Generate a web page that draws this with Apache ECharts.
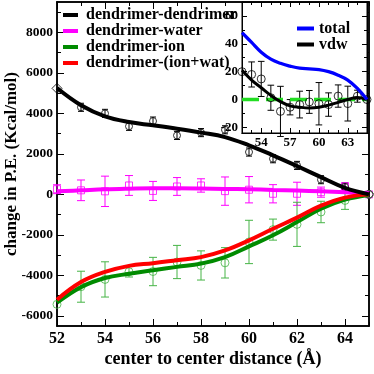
<!DOCTYPE html>
<html>
<head>
<meta charset="utf-8">
<script src="https://cdn.jsdelivr.net/npm/echarts@6/dist/echarts.min.js"></script>
<style>
html,body{margin:0;padding:0;background:#fff}
#chart{width:374px;height:374px}
</style>
</head>
<body>
<div id="chart"></div>
<script>
// center to center distance (A)
const distance = [52,53,54,55,56,57,58,59,60,61,62,63,64,65];

// main plot: fitted curves
const ddFit  = [5250,4400,3850,3570,3410,3240,3050,2830,2420,1930,1400,850,320,0];
const dwFit  = [150,200,250,280,300,300,290,270,250,220,190,150,100,50];
const diFit  = [-5350,-4580,-4130,-3920,-3750,-3580,-3420,-3100,-2570,-2020,-1370,-710,-260,-30];
const diwFit = [-5200,-4330,-3830,-3530,-3400,-3250,-3100,-2770,-2270,-1700,-1150,-560,-160,0];

// main plot: raw points with error bars
const ddPts = [5235,4300,4000,3360,3620,2910,3050,3190,2090,1760,1430,725,360,0];
const ddErr = [0,200,200,200,200,200,200,200,200,200,200,200,200,0];
const dwPts = [255,200,150,440,170,390,440,160,230,30,30,110,400,0];
const dwErr = [220,510,750,490,470,440,330,700,650,450,570,250,160,0];
const diPts = [-5430,-4560,-4200,-3820,-3810,-3340,-3510,-3380,-2350,-1740,-1480,-870,-300,0];
const diErr = [0,765,870,260,700,820,720,750,1070,520,1090,530,440,0];

// inset
const totalFit = [48,41,34,29,26,24,22.5,22,21.5,20,17.5,14,8,0];
const vdwFit   = [21,14,8.5,3,-1.5,-4.5,-5.5,-6,-5.5,-4,-2,0,1.5,0];
const vdwPts   = [20,18,14.8,1.3,-8.5,-5.5,-3.6,-1.7,-3,-3.6,2.5,-2.9,2.4,0];
const vdwErr   = [0,9,12.6,9,18,5.5,9.6,8.2,15.2,8.4,8,12.5,4.3,0];

// tick values
const mainXTicks  = [52,54,56,58,60,62,64];
const mainXMinor  = [53,55,57,59,61,63,65];
const mainYTicks  = [-6000,-4000,-2000,0,2000,4000,6000,8000];
const mainYMinor  = [-5000,-3000,-1000,1000,3000,5000,7000,9000];
const insetXTicks = [54,57,60,63];
const insetXMinor = [53,55,56,58,59,61,62,64];
const insetYTicks = [-20,0,20,40,60];
const insetYMinor = [-10,10,30,50];

const font = 'Liberation Serif';

function pairs(ys){ return distance.map((x,i)=>[x, ys[i]]); }

function axis(pos, grid, min, max, ticks, len, z, label){
    return {
        type:'value', gridIndex:grid, position:pos, min:min, max:max, z:z,
        axisLine:{show:true, onZero:false, lineStyle:{color:'#000', width:grid===0 ? 1.5 : 1}},
        axisTick:{show:true, inside:true, length:len, customValues:ticks, lineStyle:{color:'#000', width:1}},
        axisLabel: label ? Object.assign({
            customValues:ticks, color:'#000', fontFamily:font, fontWeight:'bold',
            formatter:v=>String(v)
        }, label) : {show:false},
        splitLine:{show:false}
    };
}

function errBars(ys, es, color, xi, yi, cap, z){
    return {
        type:'custom', xAxisIndex:xi, yAxisIndex:yi, z:z, silent:true,
        data: distance.map((x,i)=>[x, ys[i], es[i]]),
        renderItem(params, api){
            const x = api.value(0), y = api.value(1), e = api.value(2);
            if(!e) return;
            const t = api.coord([x, y+e]), b = api.coord([x, y-e]);
            const style = {stroke:color, lineWidth:1};
            return {type:'group', children:[
                {type:'line', shape:{x1:t[0],y1:t[1],x2:b[0],y2:b[1]}, style:style},
                {type:'line', shape:{x1:t[0]-cap,y1:t[1],x2:t[0]+cap,y2:t[1]}, style:style},
                {type:'line', shape:{x1:b[0]-cap,y1:b[1],x2:b[0]+cap,y2:b[1]}, style:style}
            ]};
        }
    };
}

function fitLine(name, ys, color, width, xi, yi, z){
    return {
        type:'line', name:name, xAxisIndex:xi, yAxisIndex:yi, z:z,
        data:pairs(ys), smooth:0.4, showSymbol:false, symbol:'none',
        lineStyle:{color:color, width:width}, itemStyle:{color:color}
    };
}

function points(ys, symbol, color, size, xi, yi, z){
    return {
        type:'scatter', xAxisIndex:xi, yAxisIndex:yi, z:z, silent:true,
        symbol:symbol, symbolSize:size,
        data:pairs(ys),
        itemStyle:{color:'rgba(0,0,0,0)', borderColor:color, borderWidth:1}
    };
}

const chart = echarts.init(document.getElementById('chart'));

const ddScatter = points(ddPts, 'circle', '#000', 7, 0, 0, 3);
ddScatter.data[0] = {value:[distance[0], ddPts[0]], symbol:'diamond', symbolSize:10};
ddScatter.data[13] = {value:[distance[13], ddPts[13]], symbol:'diamond', symbolSize:10};

chart.setOption({
    backgroundColor:'#fff',
    animation:false,
    grid:[
        {left:57, top:2, right:5, bottom:48, outerBoundsMode:'none'},
        {left:242, top:2, right:7, bottom:241, outerBoundsMode:'none', show:true,
         backgroundColor:'#fff', borderColor:'#000', borderWidth:1, z:10}
    ],
    xAxis:[
        Object.assign(axis('bottom', 0, 52, 65, mainXTicks, 7, 1, {fontSize:16, margin:5}), {
            name:'center to center distance (\u00c5)', nameLocation:'middle', nameGap:24,
            nameMoveOverlap:false,
            nameTextStyle:{fontFamily:font, fontWeight:'bold', fontSize:18, color:'#000'}
        }),
        axis('bottom', 0, 52, 65, mainXMinor, 4, 1, null),
        axis('top', 0, 52, 65, mainXTicks, 7, 1, null),
        axis('top', 0, 52, 65, mainXMinor, 4, 1, null),
        axis('bottom', 1, 52, 65, insetXTicks, 5, 12, {fontSize:13, margin:3}),
        axis('bottom', 1, 52, 65, insetXMinor, 3, 12, null),
        axis('top', 1, 52, 65, insetXTicks, 5, 12, null),
        axis('top', 1, 52, 65, insetXMinor, 3, 12, null)
    ],
    yAxis:[
        Object.assign(axis('left', 0, -6500, 9500, mainYTicks, 7, 1, {fontSize:13.5, margin:4}), {
            name:'change in P.E. (Kcal/mol)', nameLocation:'middle', nameGap:37,
            nameMoveOverlap:false,
            nameTextStyle:{fontFamily:font, fontWeight:'bold', fontSize:17, color:'#000'}
        }),
        axis('left', 0, -6500, 9500, mainYMinor, 4, 1, null),
        axis('right', 0, -6500, 9500, mainYTicks, 7, 1, null),
        axis('right', 0, -6500, 9500, mainYMinor, 4, 1, null),
        axis('left', 1, -24, 70, insetYTicks, 5, 12, {fontSize:13, margin:4}),
        axis('left', 1, -24, 70, insetYMinor, 3, 12, null),
        axis('right', 1, -24, 70, insetYTicks, 5, 12, null),
        axis('right', 1, -24, 70, insetYMinor, 3, 12, null)
    ],
    legend:[
        {data:['dendrimer-dendrimer','dendrimer-water','dendrimer-ion','dendrimer-(ion+wat)'],
         orient:'vertical', left:63, top:7, padding:0, itemWidth:15, itemHeight:4, itemGap:0, icon:'rect',
         selectedMode:false, z:4,
         textStyle:{fontFamily:font, fontWeight:'bold', fontSize:16, lineHeight:15.5, color:'#000', padding:[0,0,0,3]}},
        {data:['total','vdw'],
         orient:'vertical', left:297, top:20.5, padding:0, itemWidth:17, itemHeight:4, itemGap:0, icon:'rect',
         selectedMode:false, z:14,
         textStyle:{fontFamily:font, fontWeight:'bold', fontSize:16, lineHeight:15, color:'#000'}}
    ],
    series:[
        // main plot
        errBars(dwPts, dwErr, '#ff00ff', 0, 0, 4, 2),
        errBars(diPts, diErr, '#46b446', 0, 0, 4, 2),
        errBars(ddPts, ddErr, '#000', 0, 0, 3, 2),
        points(dwPts, 'rect', '#ff00ff', 7, 0, 0, 3),
        points(diPts, 'circle', '#46b446', 8, 0, 0, 3),
        ddScatter,
        fitLine('dendrimer-water', dwFit, '#ff00ff', 4, 0, 0, 4),
        fitLine('dendrimer-ion', diFit, '#008b00', 4, 0, 0, 4),
        fitLine('dendrimer-(ion+wat)', diwFit, '#ff0000', 4, 0, 0, 5),
        fitLine('dendrimer-dendrimer', ddFit, '#000', 4, 0, 0, 6),
        // inset
        errBars(vdwPts, vdwErr, '#000', 4, 4, 3.3, 12),
        points(vdwPts, 'circle', '#000', 8, 4, 4, 13),
        {type:'line', xAxisIndex:4, yAxisIndex:4, z:13, silent:true, symbol:'none',
         data:[[52,0],[65,0]],
         lineStyle:{color:'#22dd22', width:3.5, type:[17,7]}},
        fitLine('vdw', vdwFit, '#000', 3, 4, 4, 14),
        fitLine('total', totalFit, '#0000ff', 3.3, 4, 4, 14)
    ]
});
</script>
</body>
</html>
